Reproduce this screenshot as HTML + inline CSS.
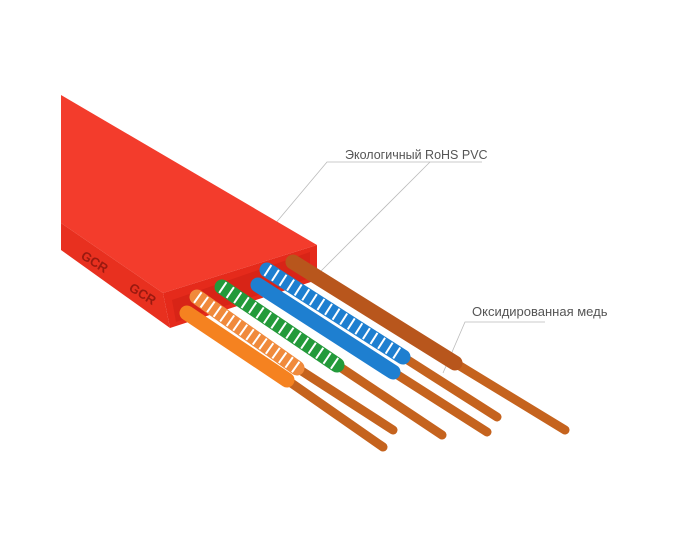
<!DOCTYPE html>
<html><head><meta charset="utf-8"><style>
html,body{margin:0;padding:0;background:#fff;}
svg{display:block}
</style></head><body>
<svg width="673" height="550" viewBox="0 0 673 550" xmlns="http://www.w3.org/2000/svg">
<g stroke="#bbb" stroke-width="0.8" fill="none">
<polyline points="264,237 327,162 482,162"/>
<polyline points="320,272 430,162"/>
<polyline points="443,373 465,322 545,322"/>
</g>
<text x="345" y="159" font-family="Liberation Sans, sans-serif" font-size="12.5" fill="#555">Экологичный RoHS PVC</text>
<text x="472" y="316" font-family="Liberation Sans, sans-serif" font-size="13" fill="#555">Оксидированная медь</text>

<polygon points="61,95 317,245 163,293 61,223" fill="#f33c2c"/>
<polygon points="61,223 163,293 170,328 61,250" fill="#e8301f"/>
<polygon points="163,293 317,245 317,280 170,328" fill="#e52a1b"/>
<polygon points="172,300 310,252 310,278 176,322" fill="#d82417"/>
<text x="80" y="258" transform="rotate(32 80 258)" font-family="Liberation Sans, sans-serif" font-weight="bold" font-size="13" fill="#9a1a10">GCR</text>
<text x="128" y="290" transform="rotate(32 128 290)" font-family="Liberation Sans, sans-serif" font-weight="bold" font-size="13" fill="#9a1a10">GCR</text>

<g stroke-linecap="round">
<line x1="455" y1="363" x2="565" y2="430" stroke="#c5631e" stroke-width="9"/>
<line x1="293" y1="262" x2="455" y2="363" stroke="#b8561c" stroke-width="15"/>
<line x1="403" y1="357" x2="497" y2="417" stroke="#c5631e" stroke-width="9"/>
<line x1="267" y1="270" x2="403" y2="357" stroke="#1e7fd0" stroke-width="15"/>
<line x1="267" y1="270" x2="403" y2="357" stroke="#fff" stroke-width="13" stroke-dasharray="2 7" stroke-linecap="butt"/>
<line x1="393" y1="372" x2="487" y2="432" stroke="#c5631e" stroke-width="9"/>
<line x1="258" y1="285" x2="393" y2="372" stroke="#1e7fd0" stroke-width="15"/>
<line x1="337" y1="365" x2="442" y2="435" stroke="#c5631e" stroke-width="9"/>
<line x1="222" y1="287" x2="337" y2="365" stroke="#239a3a" stroke-width="15"/>
<line x1="222" y1="287" x2="337" y2="365" stroke="#fff" stroke-width="13" stroke-dasharray="2 7" stroke-linecap="butt"/>
<line x1="297" y1="368" x2="393" y2="430" stroke="#c5631e" stroke-width="9"/>
<line x1="197" y1="297" x2="297" y2="368" stroke="#f08a3c" stroke-width="15"/>
<line x1="197" y1="297" x2="297" y2="368" stroke="#fff" stroke-width="13" stroke-dasharray="2 6" stroke-linecap="butt"/>
<line x1="287" y1="380" x2="383" y2="447" stroke="#c5631e" stroke-width="9"/>
<line x1="187" y1="313" x2="287" y2="380" stroke="#f58220" stroke-width="15"/>
</g>
</svg>
</body></html>
